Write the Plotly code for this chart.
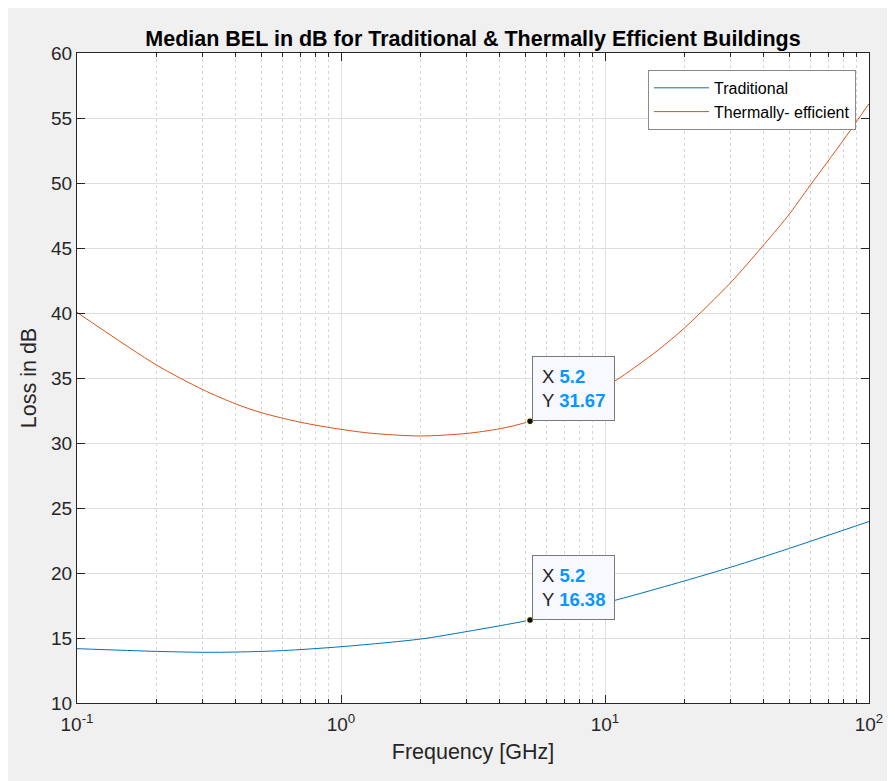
import math
import plotly.graph_objects as go

# ---- data ----
freq_trad = [0.1, 0.2, 0.3, 0.4, 0.6, 1.0, 2.0, 3.0, 5.2, 10, 16.8, 30, 50, 100]
loss_trad = [14.18, 13.97, 13.9, 13.92, 14.03, 14.33, 14.92, 15.5, 16.38, 17.7, 18.95, 20.45, 21.9, 23.96]

freq_therm = [0.1, 0.2, 0.3, 0.4, 0.5, 0.7, 1.0, 1.3, 2.0, 3.0, 4.0, 5.2, 7.5, 10.85, 15.9, 20, 30, 39, 49, 60, 80, 100]
loss_therm = [40.05, 36.0, 34.1, 33.0, 32.33, 31.6, 31.05, 30.75, 30.54, 30.74, 31.1, 31.67, 33.0, 34.74, 37.15, 38.85, 42.36, 45.0, 47.4, 49.85, 53.3, 56.1]

tip_freq = [5.2, 5.2]
tip_loss = [31.67, 16.38]

series_names = ["Traditional", "Thermally- efficient"]
x_tick_vals = [0.1, 1, 10, 100]
x_tick_text = ["10<sup>-1</sup>", "10<sup>0</sup>", "10<sup>1</sup>", "10<sup>2</sup>"]
x_minor_vals = [m * d for d in (0.1, 1, 10) for m in range(2, 10)]
y_tick_vals = [10, 15, 20, 25, 30, 35, 40, 45, 50, 55, 60]

FONT = "Liberation Sans, Arial, Helvetica, sans-serif"
BLUE = "#0072BD"
ORANGE = "#D95319"
AXC = "#262626"
TIPC = "#0a96ff"

fig = go.Figure()
fig.add_trace(go.Scatter(x=freq_trad, y=loss_trad, mode="lines", name=series_names[0],
                         line=dict(color=BLUE, width=1, shape="spline", smoothing=0.8)))
fig.add_trace(go.Scatter(x=freq_therm, y=loss_therm, mode="lines", name=series_names[1],
                         line=dict(color=ORANGE, width=1, shape="spline", smoothing=0.8)))
fig.add_trace(go.Scatter(x=tip_freq, y=tip_loss, mode="markers", showlegend=False,
                         marker=dict(color="#111111", size=7, line=dict(color="#fffbc8", width=1.5))))

for fx, fy in zip(tip_freq, tip_loss):
    fig.add_annotation(
        x=math.log10(fx), y=fy, xref="x", yref="y", xanchor="left", yanchor="bottom",
        xshift=2, yshift=0, showarrow=False, align="left",
        text=(f"X <b><span style='color:{TIPC}'>{fx:g}</span></b><br>"
              f"Y <b><span style='color:{TIPC}'>{fy:.2f}</span></b>"),
        font=dict(family=FONT, size=18.5, color=AXC),
        bgcolor="#f8f8ff", bordercolor="#7a7a7a", borderwidth=1, borderpad=9,
    )

W, H = 887, 773  # page body adds an 8 px offset
fig.update_layout(
    width=W, height=H,
    paper_bgcolor="#f0f0f0", plot_bgcolor="white",
    margin=dict(l=69, r=24, t=45, b=78),
    font=dict(family=FONT, color=AXC),
    title=dict(text="<b>Median BEL in dB for Traditional & Thermally Efficient Buildings</b>",
               x=0.5, xref="paper", y=1 - 30 / H, yref="container", yanchor="middle",
               font=dict(family=FONT, size=21.5, color="#000000")),
    showlegend=True,
    legend=dict(x=0.9836, y=0.974, xanchor="right", yanchor="top",
                bgcolor="white", bordercolor="#8a8a8a", borderwidth=1,
                font=dict(family=FONT, size=16, color="#000000"),
                itemwidth=55, tracegroupgap=0),
)

fig.update_xaxes(
    type="log", range=[-1, 2],
    tickvals=x_tick_vals, ticktext=x_tick_text,
    tickfont=dict(family=FONT, size=19, color=AXC),
    ticks="inside", ticklen=8, tickcolor=AXC, ticklabelstandoff=4,
    showline=True, linecolor=AXC, linewidth=1, mirror="ticks",
    showgrid=True, gridcolor="#dedede", gridwidth=1,
    minor=dict(tickvals=x_minor_vals, ticks="inside", ticklen=4, tickcolor=AXC,
               showgrid=True, gridcolor="#d6d6d6", griddash="dot", gridwidth=1),
    title=dict(text="Frequency [GHz]", font=dict(family=FONT, size=21.5, color=AXC), standoff=10),
    zeroline=False,
)
fig.update_yaxes(
    range=[10, 60], tickvals=y_tick_vals,
    tickfont=dict(family=FONT, size=19, color=AXC),
    ticks="inside", ticklen=8, tickcolor=AXC,
    showline=True, linecolor=AXC, linewidth=1, mirror="ticks",
    showgrid=True, gridcolor="#dedede", gridwidth=1,
    title=dict(text="Loss in dB", font=dict(family=FONT, size=21.5, color=AXC), standoff=8),
    zeroline=False,
)

fig.write_html("out.html")
